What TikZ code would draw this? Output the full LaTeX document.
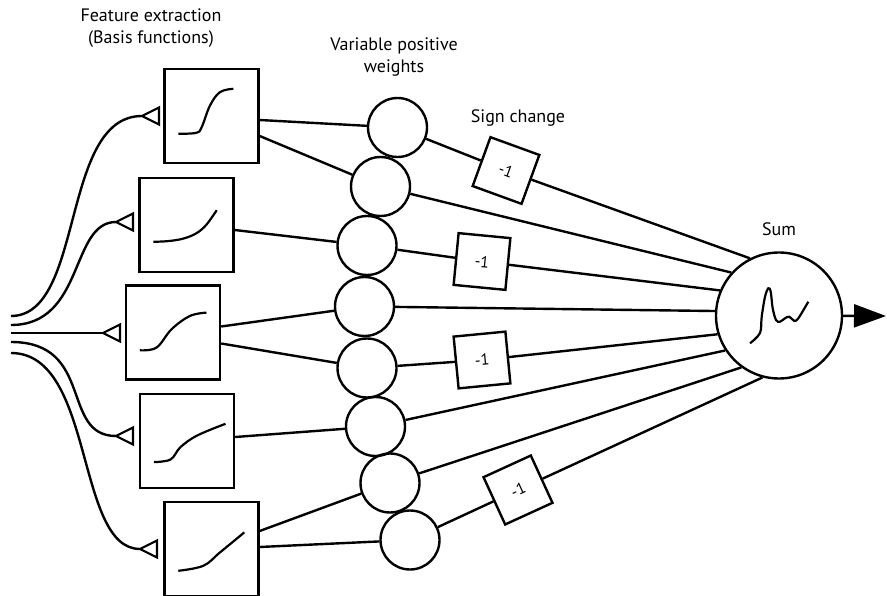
\documentclass[tikz,border=0pt]{standalone}
\usepackage{fontspec}
\setmainfont{PT Sans}
\usetikzlibrary{arrows.meta}
\begin{document}
\begin{tikzpicture}[x=1pt,y=-1pt,
  line width=2.4pt,
  fbox/.style={draw, minimum size=94pt, inner sep=0pt},
  weight/.style={draw, circle, minimum size=59pt, inner sep=0pt},
  signbox/.style={draw, minimum size=52pt, inner sep=0pt, font=\fontsize{16}{16}\selectfont},
  sumnode/.style={draw, circle, minimum size=126pt, inner sep=0pt},
  lbl/.style={align=center, font=\fontsize{18}{22}\selectfont},
  curve/.style={line width=2.2pt},
  tip/.style={line width=2.2pt, line join=miter}
]
\useasboundingbox (0,0) rectangle (887,596);

% basis-function boxes
\node[fbox] (b1) at (211.5,116) {};
\node[fbox] (b2) at (186.5,225) {};
\node[fbox] (b3) at (173,332.5) {};
\node[fbox] (b4) at (187,441) {};
\node[fbox] (b5) at (211.5,549) {};

% transfer curves inside the boxes
\begin{scope}[shift={(b1.north west)}]
  \draw[curve] plot[smooth, tension=0.6] coordinates {(15,66) (33,65) (38.4,59.3) (46.7,37.7) (56.7,24.3) (70,21)};
\end{scope}
\begin{scope}[shift={(b2.north west)}]
  \draw[curve] plot[smooth, tension=0.6] coordinates {(15,65) (30,64.3) (45,61.8) (58,56.5) (68,48) (78.4,33.4)};
\end{scope}
\begin{scope}[shift={(b3.north west)}]
  \draw[curve] plot[smooth, tension=0.6] coordinates {(15,66) (31.7,63.3) (46.7,45) (65,31.7) (81.7,28.3)};
\end{scope}
\begin{scope}[shift={(b4.north west)}]
  \draw[curve] plot[smooth, tension=0.6] coordinates {(15,69.3) (31.7,66.7) (41.7,54.3) (58.4,42.7) (86.7,31)};
\end{scope}
\begin{scope}[shift={(b5.north west)}]
  \draw[curve] plot[smooth, tension=0.6] coordinates {(15,70) (40,65) (56.7,51.6) (81,31.6)};
\end{scope}

% input fan
\coordinate (i1) at (11,316);
\coordinate (i2) at (11,325);
\coordinate (i3) at (11,333);
\coordinate (i4) at (11,342);
\coordinate (i5) at (11,353);
\coordinate (t1) at (142,116);
\coordinate (t2) at (116,222);
\coordinate (t3) at (103,333);
\coordinate (t4) at (116,436);
\coordinate (t5) at (140,549);

\draw (i1) .. controls (85,316) and (60,116) .. (t1);
\draw (i2) .. controls (85,325) and (70,222) .. (t2);
\draw (i3) -- (t3);
\draw (i4) .. controls (95,342) and (60,436) .. (t4);
\draw (i5) .. controls (95,353) and (75,549) .. (t5);

\foreach \t in {t1,t2,t3,t4,t5}
  \draw[tip] (\t) -- ++(17,-8.5) -- ++(0,17) -- cycle;

% weight circles
\node[weight] (w1) at (397.5,127.5) {};
\node[weight] (w2) at (380.5,186.5) {};
\node[weight] (w3) at (367,245.5) {};
\node[weight] (w4) at (364.5,306.5) {};
\node[weight] (w5) at (367,368) {};
\node[weight] (w6) at (375.5,426.5) {};
\node[weight] (w7) at (390,483) {};
\node[weight] (w8) at (410,540) {};

% boxes to weights
\draw ([yshift=-4pt]b1.east) -- (w1);
\draw ([yshift=-20pt]b1.east) -- (w2);
\draw ([yshift=-5pt]b2.east) -- (w3);
\draw ([yshift=6pt]b3.east) -- (w4);
\draw ([yshift=-11pt]b3.east) -- (w5);
\draw ([yshift=4pt]b4.east) -- (w6);
\draw ([yshift=18pt]b5.east) -- (w7);
\draw ([yshift=2pt]b5.east) -- (w8);

% summing node
\node[sumnode] (sum) at (779,315.5) {};
\begin{scope}[shift={(sum.center)}]
  \draw[curve] plot[smooth, tension=0.55] coordinates {(-29,27.8) (-19,17.5) (-17.3,1.2) (-14,-18.8) (-10.7,-27.2) (-8.3,-23.8) (-6.3,-7.2) (-3,4.5) (1,6.2) (6,2.8) (10.3,1.2) (15,5.2) (19.3,2.8) (29.3,-13.8)};
\end{scope}

% sign-change boxes
\node[signbox, rotate=-20] (s1) at (506,170.5) {-1};
\node[signbox, rotate=-5.5] (s2) at (482,261.5) {-1};
\node[signbox, rotate=5.5] (s3) at (482,360) {-1};
\node[signbox, rotate=24.6] (s4) at (518,490) {-1};

% weights to sum
\draw (w1) -- (s1) -- (sum.117.6);
\draw (w2) -- (sum.138);
\draw (w3) -- (s2) -- (sum.157.4);
\draw (w4) -- (sum.176);
\draw (w5) -- (s3) -- (sum.197.5);
\draw (w6) -- (sum.213.6);
\draw (w7) -- (sum.234);
\draw (w8) -- (s4) -- (sum.255.3);

% output
\coordinate (out) at (886,316);
\draw[-{Triangle[length=32pt,width=23pt]}] (sum) -- (out);

% labels
\node[lbl] (lfeat) at (151,28) {Feature extraction\\(Basis functions)};
\node[lbl] (lweight) at (394,57) {Variable positive\\weights};
\node[lbl] (lsign) at (518,118) {Sign change};
\node[lbl] (lsum) at (779,229) {Sum};
\end{tikzpicture}
\end{document}
